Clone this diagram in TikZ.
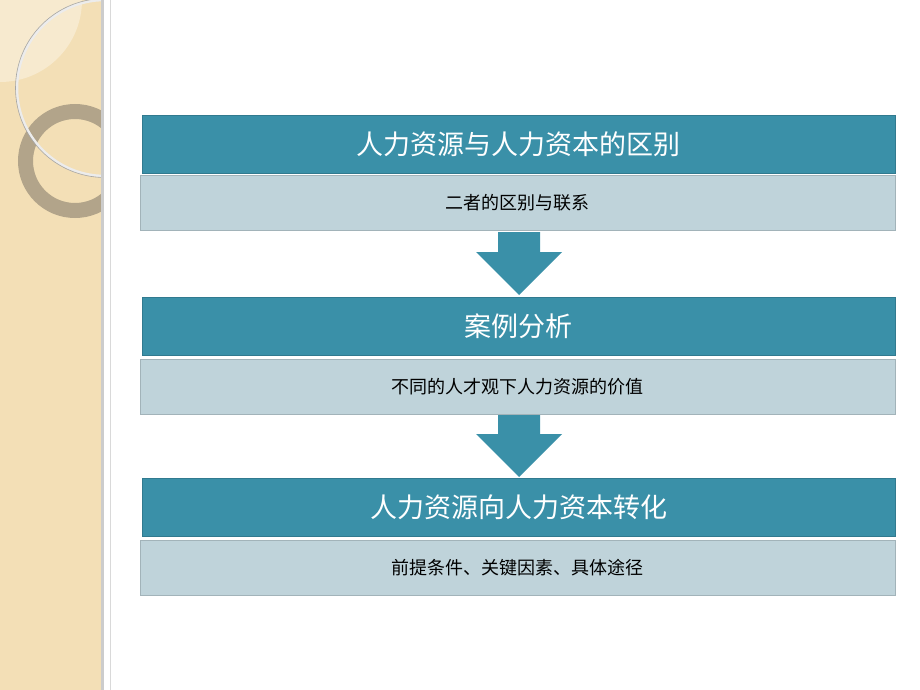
\documentclass[tikz,border=0pt]{standalone}
\usepackage{fontspec}
\newfontfamily\cjk{Noto Sans CJK SC}
\begin{document}
\begin{tikzpicture}[x=1pt,y=-1pt,
  head/.style={fill=head,draw=head!85!black,line width=0.6pt,minimum width=753pt,minimum height=58pt,anchor=north west,inner sep=0pt,text=white,font=\cjk\fontsize{27}{30}\selectfont},
  sub/.style={fill=subc,draw=subc!85!black,line width=0.6pt,minimum width=755pt,minimum height=55pt,anchor=north west,inner sep=0pt,text=black,font=\cjk\fontsize{18}{20}\selectfont},
  arr/.style={fill=head,draw=none}]
\definecolor{head}{HTML}{3A90A8}
\definecolor{subc}{HTML}{BFD3DA}
\definecolor{beige}{HTML}{F3DFB6}
\useasboundingbox (0,0) rectangle (920,690);
\fill[white] (0,0) rectangle (920,690);
\begin{scope}
\clip (0,0) rectangle (102,690);
\fill[beige] (0,0) rectangle (102,690);
\fill[white,opacity=0.35] (0,0) circle (82);
\draw[line width=15pt,color=black!30!beige!80!gray,opacity=0.8] (75,161) circle (49.5);
\draw[line width=2.5pt,color=white!85!gray] (105,88) circle (88);
\draw[line width=0.6pt,color=gray!70] (105,88) circle (89.5);
\end{scope}
\fill[gray!40] (101,0) rectangle (104,690);
\draw[gray!30,line width=1pt] (110,0) -- (110,690);
\node[head] (h1) at (142,115) {人力资源与人力资本的区别};
\node[sub] (s1) at (140,175) {二者的区别与联系};
\node[head] (h2) at (142,297) {案例分析};
\node[sub] (s2) at (140,359) {不同的人才观下人力资源的价值};
\node[head] (h3) at (142,478) {人力资源向人力资本转化};
\node[sub] (s3) at (140,540) {前提条件、关键因素、具体途径};
\fill[arr] (498,232) -- (540,232) -- (540,252) -- (562,252) -- (519,295) -- (476,252) -- (498,252) -- cycle;
\fill[arr] (498,415) -- (540,415) -- (540,434) -- (562,434) -- (519,477) -- (476,434) -- (498,434) -- cycle;
\end{tikzpicture}
\end{document}
